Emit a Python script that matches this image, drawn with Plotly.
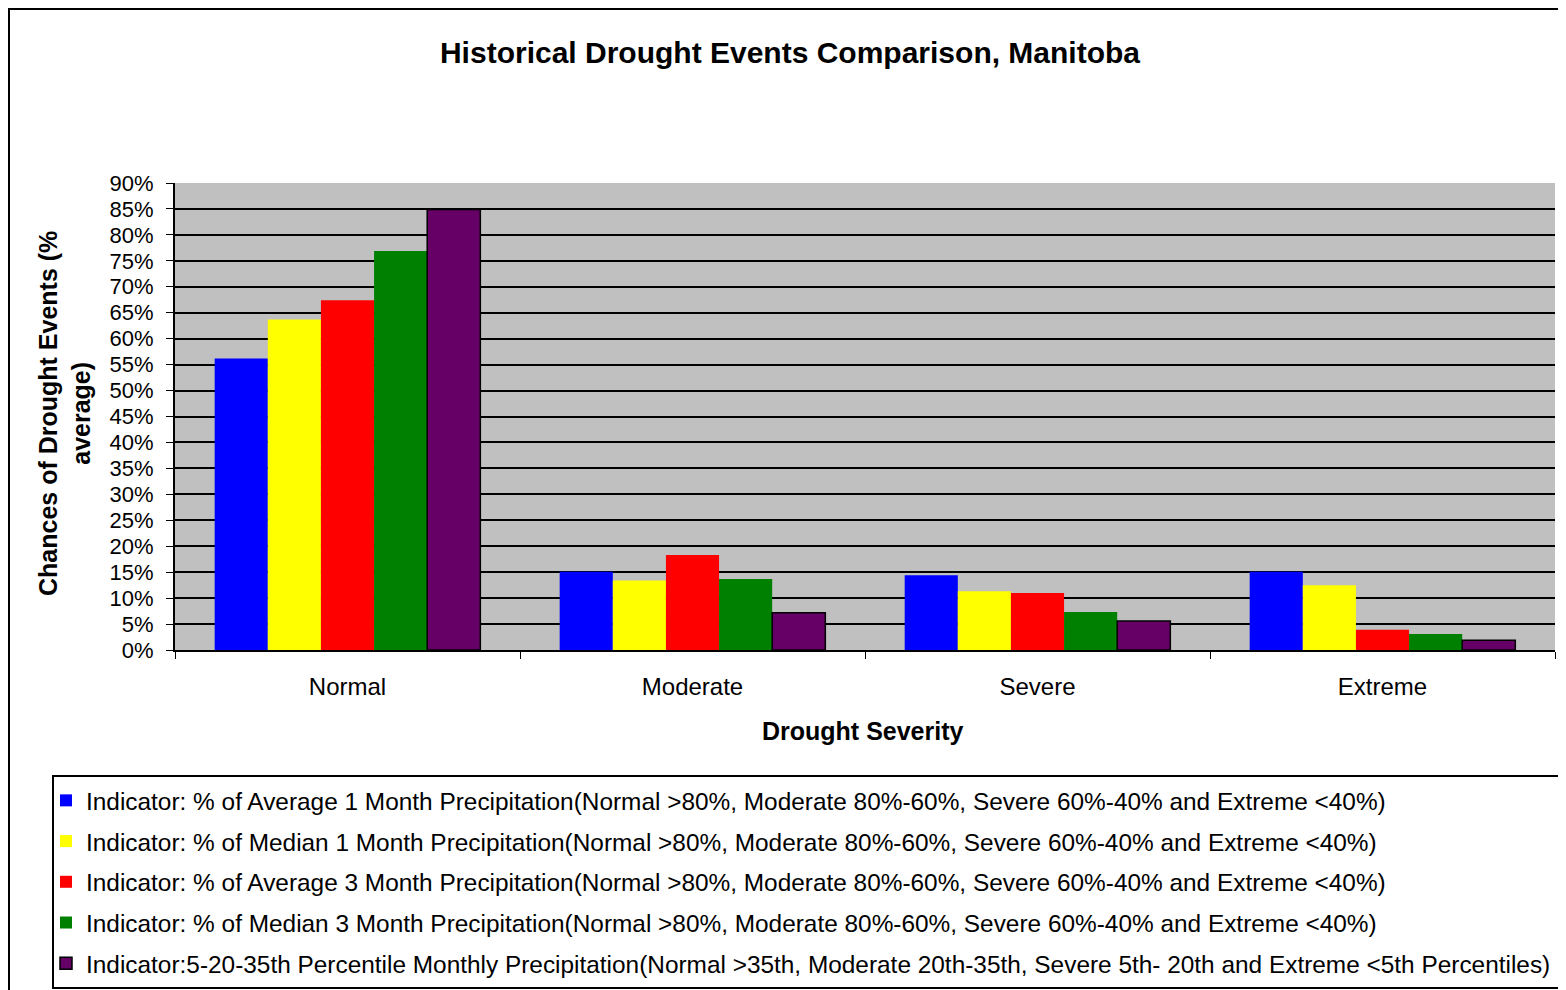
import plotly.graph_objects as go

categories = ["Normal", "Moderate", "Severe", "Extreme"]

series_names = [
    "Indicator: % of Average 1 Month Precipitation(Normal >80%, Moderate 80%-60%, Severe 60%-40% and Extreme <40%)",
    "Indicator: % of Median 1 Month Precipitation(Normal >80%, Moderate 80%-60%, Severe 60%-40% and Extreme <40%)",
    "Indicator: % of Average 3 Month Precipitation(Normal >80%, Moderate 80%-60%, Severe 60%-40% and Extreme <40%)",
    "Indicator: % of Median 3 Month Precipitation(Normal >80%, Moderate 80%-60%, Severe 60%-40% and Extreme <40%)",
    "Indicator:5-20-35th Percentile Monthly Precipitation(Normal >35th, Moderate 20th-35th, Severe 5th- 20th and Extreme <5th Percentiles)",
]

avg_1m = [56.2, 15.1, 14.4, 15.1]
med_1m = [63.7, 13.4, 11.3, 12.5]
avg_3m = [67.4, 18.3, 11.0, 3.9]
med_3m = [76.9, 13.7, 7.3, 3.1]
pct_monthly = [84.9, 7.2, 5.6, 1.9]

series_values = [avg_1m, med_1m, avg_3m, med_3m, pct_monthly]
colors = ["#0000FF", "#FFFF00", "#FF0000", "#008000", "#660066"]

y_ticks = list(range(0, 95, 5))

FONT = "Arial, Liberation Sans, sans-serif"

# page body has an 8px margin, so the plot box is placed to land on
# x 175..1555, y 183..650 of the window
PX0, PY0 = 175, 183
PW, PH = 1380, 467


def px_x(x):
    return (x - PX0) / PW


def px_y(y):
    return (PY0 + PH - y) / PH


fig = go.Figure()

for i, (name, vals, col) in enumerate(zip(series_names, series_values, colors)):
    outline = 1.5 if i == 4 else 0
    fig.add_trace(
        go.Bar(
            x=categories,
            y=vals,
            name=name,
            legendgroup=str(i),
            marker=dict(color=col, line=dict(color="black", width=outline)),
        )
    )

fig.update_layout(
    width=1566,
    height=990,
    margin=dict(l=PX0 - 8, r=1566 + 8 - PX0 - PW, t=PY0 - 8, b=990 + 8 - PY0 - PH),
    paper_bgcolor="white",
    plot_bgcolor="#C0C0C0",
    barmode="group",
    bargap=0.23,
    bargroupgap=0,
    font=dict(family=FONT, color="black"),
    title=dict(
        text="<b>Historical Drought Events Comparison, Manitoba</b>",
        x=(790 - 8) / 1566,
        xanchor="center",
        y=1 - (52 - 8) / 990,
        yanchor="middle",
        font=dict(size=30, family=FONT),
    ),
    legend=dict(
        x=px_x(46),
        xanchor="left",
        y=px_y(778),
        yanchor="top",
        borderwidth=0,
        bgcolor="rgba(0,0,0,0)",
        font=dict(size=24.4, family=FONT),
        tracegroupgap=6,
        itemwidth=30,
    ),
    showlegend=True,
)

fig.update_xaxes(
    showline=True,
    linecolor="black",
    linewidth=2,
    ticks="outside",
    tickson="boundaries",
    ticklen=7,
    tickcolor="black",
    tickfont=dict(size=24),
    ticklabelstandoff=14,
)

fig.update_yaxes(
    range=[0, 90],
    tickvals=y_ticks,
    ticktext=[f"{v}%" for v in y_ticks],
    showgrid=True,
    gridcolor="black",
    gridwidth=2,
    showline=True,
    linecolor="black",
    linewidth=2,
    ticks="outside",
    ticklen=7,
    tickcolor="black",
    tickfont=dict(size=22),
    ticklabelstandoff=8,
    zeroline=False,
)

# axis titles
fig.add_annotation(
    text="<b>Drought Severity</b>",
    xref="paper", yref="paper",
    x=px_x(863), y=px_y(731),
    xanchor="center", yanchor="middle",
    showarrow=False,
    font=dict(size=25),
)
fig.add_annotation(
    text="<b>Chances of Drought Events (%<br>average)</b>",
    xref="paper", yref="paper",
    x=px_x(64), y=px_y(414),
    xanchor="center", yanchor="middle",
    textangle=-90,
    showarrow=False,
    font=dict(size=25),
)

# outer chart border
fig.add_shape(
    type="rect",
    xref="paper", yref="paper",
    x0=px_x(9), x1=px_x(1620),
    y0=px_y(1040), y1=px_y(9),
    line=dict(color="black", width=2),
    fillcolor="rgba(0,0,0,0)",
    layer="below",
)

# legend box, running off the right edge as in the original
fig.add_shape(
    type="rect",
    xref="paper", yref="paper",
    x0=px_x(53), x1=px_x(1620),
    y0=px_y(988), y1=px_y(776),
    line=dict(color="black", width=2),
    fillcolor="rgba(0,0,0,0)",
    layer="below",
)

fig.write_html("out.html")
